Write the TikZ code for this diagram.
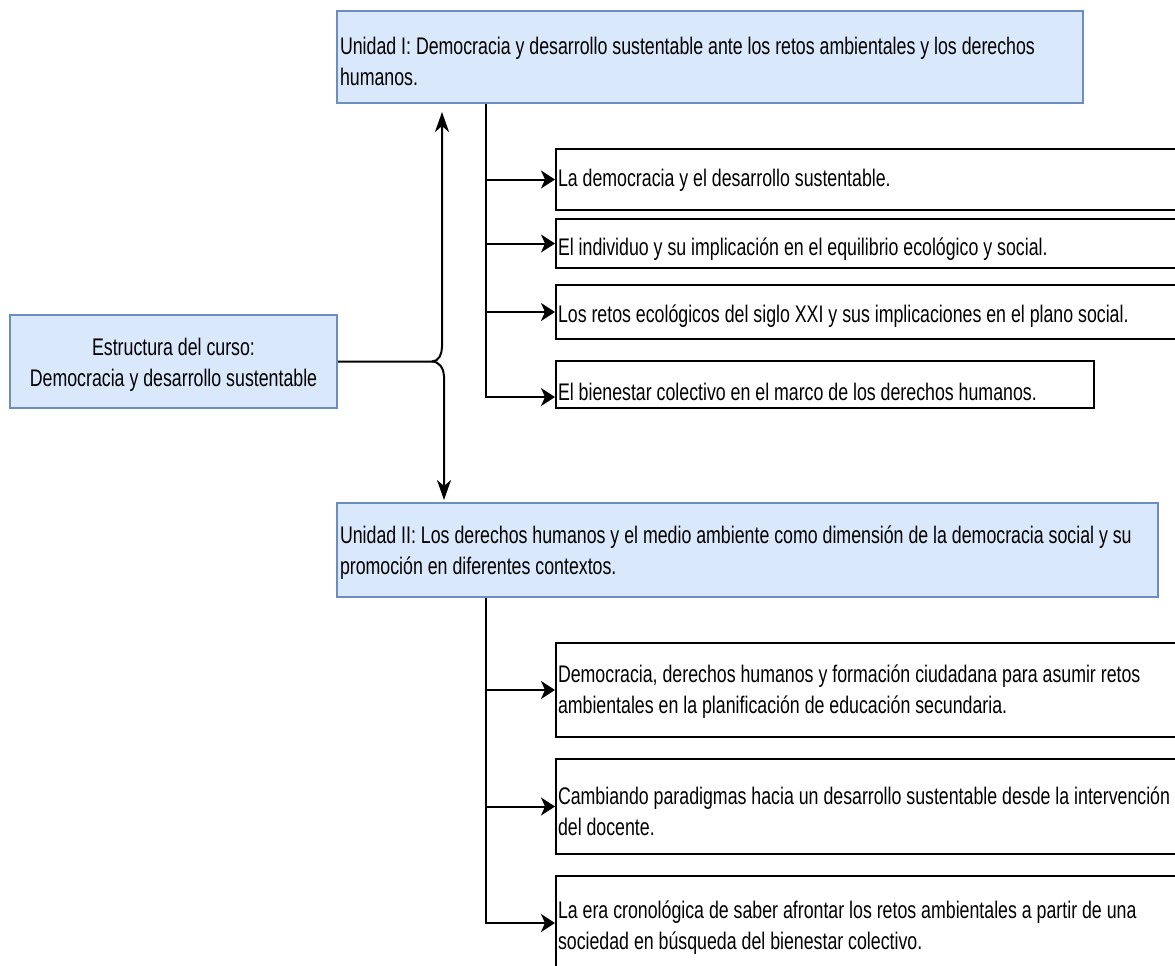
\documentclass[tikz,border=0pt]{standalone}
\usepackage{fontspec}
\setmainfont{Liberation Sans}[FakeStretch=0.74]
\usetikzlibrary{arrows.meta}
\definecolor{bfill}{HTML}{DAE8FC}
\definecolor{bline}{HTML}{6C8EBF}
\newcommand\lt[3]{\raisebox{-#1}[\height][\depth]{\makebox[#2][l]{\parbox[c]{900pt}{\raggedright #3}}}}
\newcommand\ct[3]{\raisebox{-#1}[\height][\depth]{\parbox[c]{#2}{\centering #3}}}
\begin{document}
\begin{tikzpicture}[x=0.75pt,y=-0.75pt,
  font=\fontsize{18}{23.25}\selectfont,
  bluebox/.style={draw=bline, fill=bfill, line width=1.5pt, inner sep=0pt, anchor=north west},
  wbox/.style={draw=black, fill=white, line width=1.5pt, inner sep=0pt, anchor=north west},
  conn/.style={line width=1.5pt, draw=black},
  harrow/.style={conn, -{Stealth[length=10.5pt,width=13.5pt,inset=3pt]}},
  varrow/.style={conn, -{Stealth[length=15pt,width=10.5pt,inset=4.5pt]}}]
\useasboundingbox (0,0) rectangle (1175,965);
\fill[white] (0,0) rectangle (1175,965);
\clip (0,0) rectangle (1175,965);

\node[bluebox, minimum width=245.25pt, minimum height=69.75pt] (main) at (9,314)
  {\ct{2.6pt}{245pt}{Estructura del curso:\\Democracia y desarrollo sustentable}};
\node[bluebox, minimum width=559.5pt, minimum height=69pt] (u1) at (336,10)
  {\lt{3.4pt}{555pt}{Unidad I: Democracia y desarrollo sustentable ante los retos ambientales y los derechos\\humanos.}};
\node[bluebox, minimum width=615.75pt, minimum height=70.5pt] (u2) at (336,502)
  {\lt{1.9pt}{611.25pt}{Unidad II: Los derechos humanos y el medio ambiente como dimensión de la democracia social y su\\promoción en diferentes contextos.}};

\node[wbox, minimum width=472.5pt, minimum height=45.75pt] (c1) at (555,148)
  {\lt{0.75pt}{469.5pt}{La democracia y el desarrollo sustentable.}};
\node[wbox, minimum width=472.5pt, minimum height=36.75pt] (c2) at (555,218)
  {\lt{4.1pt}{469.5pt}{El individuo y su implicación en el equilibrio ecológico y social.}};
\node[wbox, minimum width=472.5pt, minimum height=40.5pt] (c3) at (555,284)
  {\lt{3pt}{469.5pt}{Los retos ecológicos del siglo XXI y sus implicaciones en el plano social.}};
\node[wbox, minimum width=403.5pt, minimum height=35.25pt] (c4) at (555,360)
  {\lt{5.6pt}{400.5pt}{El bienestar colectivo en el marco de los derechos humanos.}};

\node[wbox, minimum width=472.5pt, minimum height=70.5pt] (cA) at (555,642)
  {\lt{1.5pt}{469.5pt}{Democracia, derechos humanos y formación ciudadana para asumir retos\\ambientales en la planificación de educación secundaria.}};
\node[wbox, minimum width=472.5pt, minimum height=71.25pt] (cB) at (555,758)
  {\lt{3.4pt}{469.5pt}{Cambiando paradigmas hacia un desarrollo sustentable desde la intervención\\del docente.}};
\node[wbox, minimum width=472.5pt, minimum height=70.5pt] (cC) at (555,875)
  {\lt{3.4pt}{469.5pt}{La era cronológica de saber afrontar los retos ambientales a partir de una\\sociedad en búsqueda del bienestar colectivo.}};

\coordinate (upx) at (442,0);
\coordinate (dnx) at (444,0);
\coordinate (split) at (432,0);
\coordinate (tx) at (486,0);

\draw[varrow, shorten >=6pt] (main.east) -- (main.east -| split)
  to[out=0,in=-90] ([yshift=11pt]main.east -| upx) -- (u1.south -| upx);
\draw[varrow, shorten >=1.5pt] (main.east -| split)
  to[out=0,in=90] ([yshift=-11pt]main.east -| dnx) -- (u2.north -| dnx);

\draw[harrow] (u1.south -| tx) |- ([yshift=-9.4pt]c4.west);
\foreach \n in {c1,c2,c3} \draw[harrow] (\n.west -| tx) -- (\n.west);

\draw[harrow] (u2.south -| tx) |- (cC.west);
\foreach \n in {cA,cB} \draw[harrow] (\n.west -| tx) -- (\n.west);
\end{tikzpicture}
\end{document}
